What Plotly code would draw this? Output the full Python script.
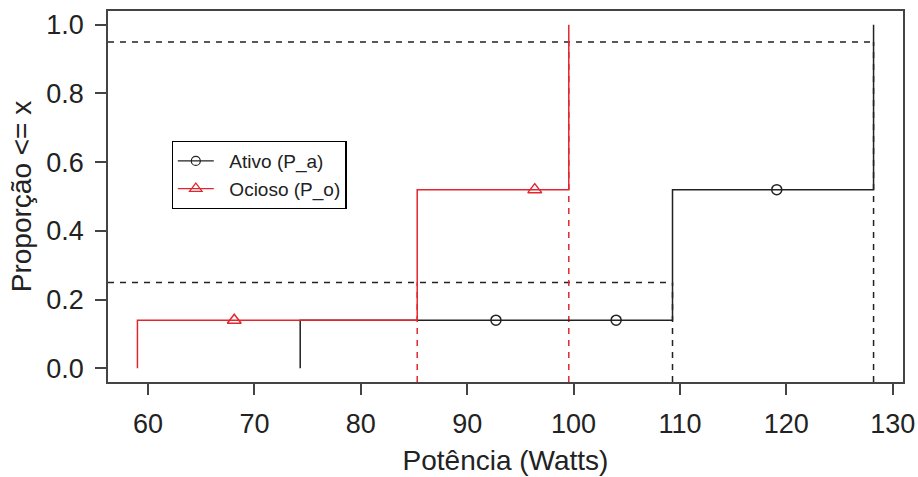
import plotly.graph_objects as go

# ---- data ----
probs = [0.25, 0.95]

ativo_steps_x = [74.3, 109.3, 128.2]
ativo_levels = [0.14, 0.52, 1.0]
ativo_mark_x = [92.7, 104.0, 119.1]
ativo_quant = [109.3, 128.2]

ocioso_steps_x = [59.0, 85.3, 99.55]
ocioso_levels = [0.14, 0.52, 1.0]
ocioso_mark_x = [68.1, 96.35]
ocioso_quant = [85.3, 99.55]

x_ticks = [60, 70, 80, 90, 100, 110, 120, 130]
y_ticks = [0.0, 0.2, 0.4, 0.6, 0.8, 1.0]

BLACK = "#222222"
RED = "#e3262e"

xmin_data = min(ocioso_steps_x + ativo_steps_x)
xmax_data = max(ocioso_steps_x + ativo_steps_x)
xpad = 0.04 * (xmax_data - xmin_data)
x_range = [xmin_data - xpad, xmax_data + xpad]
y_range = [-0.04, 1.04]


def step_path(xs, levels):
    px, py = [], []
    prev = 0.0
    for i, (x, lv) in enumerate(zip(xs, levels)):
        px += [x, x]
        py += [prev, lv]
        if i + 1 < len(xs):
            px.append(xs[i + 1])
            py.append(lv)
        prev = lv
    return px, py


def step_eval(xs, levels, x):
    val = 0.0
    for sx, lv in zip(xs, levels):
        if x >= sx:
            val = lv
    return val


fig = go.Figure()

# quantile guide lines (dashed)
for p, qa, qo in zip(probs, ativo_quant, ocioso_quant):
    fig.add_trace(go.Scatter(x=[x_range[0], max(qa, qo)], y=[p, p], mode="lines",
                             line=dict(color=BLACK, width=1.5, dash="6px,6px"),
                             showlegend=False, hoverinfo="skip"))
    fig.add_trace(go.Scatter(x=[qa, qa], y=[y_range[0], p], mode="lines",
                             line=dict(color=BLACK, width=1.5, dash="6px,6px"),
                             showlegend=False, hoverinfo="skip"))
    fig.add_trace(go.Scatter(x=[qo, qo], y=[y_range[0], p], mode="lines",
                             line=dict(color=RED, width=1.5, dash="6px,6px"),
                             showlegend=False, hoverinfo="skip"))

for name, sx, lv, mx, col, sym, msize in [
    ("Ativo (P_a)", ativo_steps_x, ativo_levels, ativo_mark_x, BLACK, "circle-open", 10),
    ("Ocioso (P_o)", ocioso_steps_x, ocioso_levels, ocioso_mark_x, RED, "triangle-up-open", 12),
]:
    px, py = step_path(sx, lv)
    fig.add_trace(go.Scatter(x=px, y=py, mode="lines", line=dict(color=col, width=1.5),
                             showlegend=False, legendgroup=name))
    fig.add_trace(go.Scatter(x=mx, y=[step_eval(sx, lv, v) for v in mx], mode="markers",
                             marker=dict(symbol=sym, size=msize, color=col, line=dict(width=1.5, color=col)),
                             showlegend=False, legendgroup=name))
    fig.add_trace(go.Scatter(x=[None], y=[None], mode="lines+markers",
                             name="\u00a0\u00a0" + name,
                             line=dict(color=col, width=1.2),
                             marker=dict(symbol=sym, size=msize - 1, color=col, line=dict(width=1.2, color=col)),
                             legendgroup=name))

axis_common = dict(showline=True, linecolor="#444444", linewidth=1.5, mirror=True,
                   showgrid=False, zeroline=False, ticks="outside", ticklen=11,
                   tickwidth=1.5, tickcolor="#444444", automargin=False,
                   tickfont=dict(family="Liberation Sans, Arial", size=27, color="#222222"))

fig.update_layout(
    width=918, height=477,
    margin=dict(l=108, r=15, t=11, b=95),
    paper_bgcolor="white", plot_bgcolor="white",
    xaxis=dict(range=x_range, tickvals=x_ticks, ticklabelstandoff=6, **axis_common,
               title=dict(text="Potência (Watts)", standoff=12,
                          font=dict(family="Liberation Sans, Arial", size=28, color="#222222"))),
    yaxis=dict(range=y_range, tickvals=y_ticks, tickformat=".1f", ticklabelstandoff=6, **axis_common,
               title=dict(text="Proporção <= x", standoff=7,
                          font=dict(family="Liberation Sans, Arial", size=28, color="#222222"))),
    legend=dict(x=0.080, y=0.650, xanchor="left", yanchor="top", bordercolor="black",
                borderwidth=1.2, bgcolor="white", tracegroupgap=0, itemwidth=36,
                font=dict(family="Liberation Sans, Arial", size=19, color="#222222")),
)

fig.write_html("out.html")
